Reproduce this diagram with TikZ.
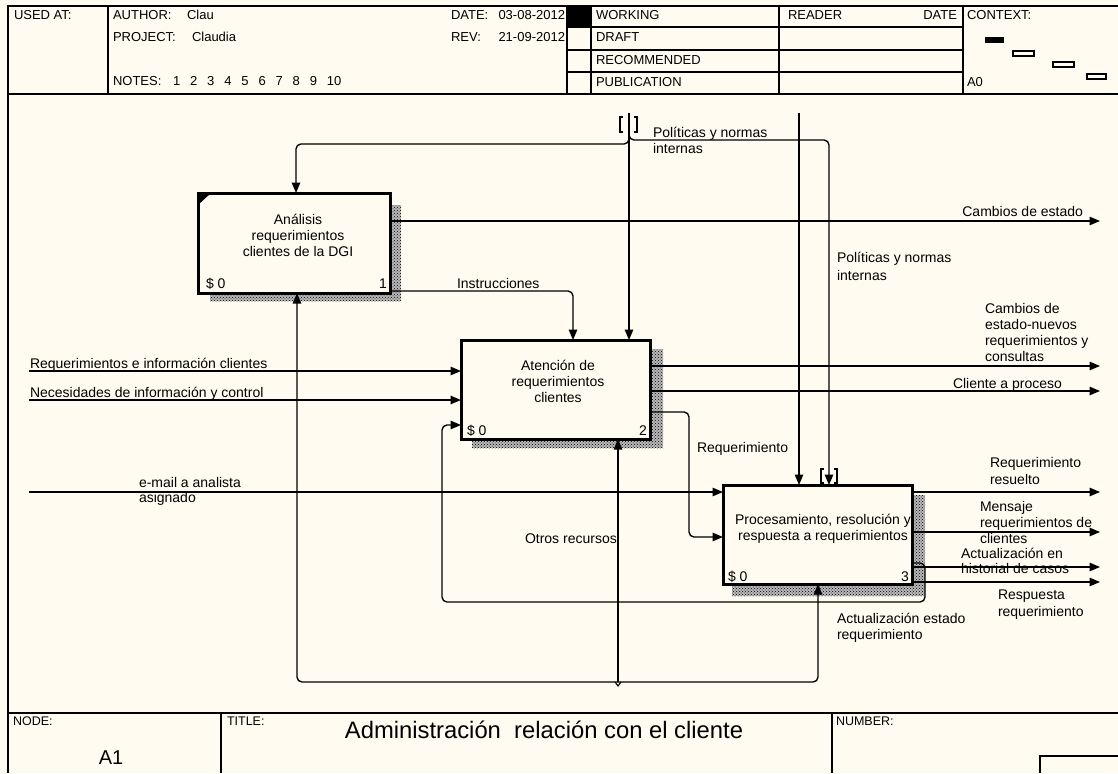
\documentclass[tikz,border=0pt]{standalone}
\usepackage{fontspec}
\setmainfont{Liberation Sans}
\usetikzlibrary{arrows.meta,patterns,calc}
\definecolor{paper}{RGB}{255,251,240}
\newcommand\lblfont{\fontsize{14}{16}\selectfont}
\newcommand\hdrfont{\fontsize{13}{15}\selectfont}
\newcommand\lblstack[2][l]{\begin{tabular}[t]{@{}#1@{}}#2\end{tabular}}
\begin{document}
\begin{tikzpicture}[x=1pt,y=-1pt,
  every node/.style={inner sep=0pt,outer sep=0pt},
  lbl/.style={font=\lblfont,anchor=base west},
  lblr/.style={font=\lblfont,anchor=base east},
  boxtext/.style={font=\lblfont,anchor=base},
  hdr/.style={font=\hdrfont,anchor=base west},
  hdrr/.style={font=\hdrfont,anchor=base east},
  rule/.style={line width=1.4pt},
  actbox/.style={draw,fill=paper,line width=3pt,minimum width=189pt,minimum height=99pt},
  shade/.style={fill=black!28,postaction={pattern=crosshatch dots,pattern color=black}},
  conn/.style={line width=1.35pt,rounded corners=5pt},
  flow/.style={conn,-{Triangle[length=10.5pt,width=8.5pt]}},
  bracket/.style={line width=1.2pt},
]
% page
\fill[paper] (0,0) rectangle (1118,773);
\useasboundingbox (0,0) rectangle (1118,773);

% ---------- frame and header form ----------
\draw[rule] (8,773) -- (8,6) -- (1118,6);
\draw[rule] (8,94) -- (1118,94);
\draw[rule] (8,713) -- (1118,713);
\foreach \x in {108,567,591,779,963} \draw[rule] (\x,6) -- (\x,94);
\foreach \y in {27,50,72} \draw[rule] (567,\y) -- (963,\y);
\fill (567,6) rectangle (591,27);

\node[hdr] (usedat) at (14,20) {USED AT:};
\node[hdr] (author) at (113,20) {AUTHOR:};
\node[hdr] (authorv) at (187,20) {Clau};
\node[hdr] (project) at (113,42) {PROJECT:};
\node[hdr] (projectv) at (192,42) {Claudia};
\node[hdr] (notes) at (113,86) {NOTES:};
\foreach \k [count=\i from 0] in {1,...,10}
  \node[hdr] (note\k) at ({173+17.1*\i},86) {\k};
\node[hdr] (date) at (451,20) {DATE:};
\node[hdrr] (datev) at (565,20) {03-08-2012};
\node[hdr] (rev) at (451,42) {REV:};
\node[hdrr] (revv) at (565,42) {21-09-2012};
\node[hdr] (working) at (596,20) {WORKING};
\node[hdr] (draft) at (596,42) {DRAFT};
\node[hdr] (recom) at (596,65) {RECOMMENDED};
\node[hdr] (publ) at (596,87) {PUBLICATION};
\node[hdr] (reader) at (788,20) {READER};
\node[hdrr] (rdate) at (957,20) {DATE};
\node[hdr] (context) at (967,20) {CONTEXT:};
\node[hdr] (ctxa0) at (967,87) {A0};
\fill (985,37) rectangle (1004,43);
\draw[line width=1.1pt] (1013,51) rectangle (1034,56);
\draw[line width=1.1pt] (1053,62) rectangle (1074,67);
\draw[line width=1.1pt] (1087,74) rectangle (1106,79);

% ---------- footer ----------
\draw[rule] (221,713) -- (221,773);
\draw[rule] (832,713) -- (832,773);
\draw[rule] (1040,773) -- (1040,756) -- (1118,756);
\node[hdr,font=\fontsize{12.5}{14}\selectfont] (fnode) at (13,725) {NODE:};
\node[hdr,font=\fontsize{12.5}{14}\selectfont] (ftitle) at (227,725) {TITLE:};
\node[hdr,font=\fontsize{12.5}{14}\selectfont] (fnumber) at (836,725) {NUMBER:};
\node[font=\fontsize{20}{22}\selectfont,anchor=base] (fa1) at (111,764) {A1};
\node[font=\fontsize{23.8}{26}\selectfont,anchor=base] (ftitlev) at (544,738) {Administración\ \ relación con el cliente};

% ---------- activity boxes ----------
\coordinate (b1c) at (294,243);
\coordinate (b2c) at (555.5,389.5);
\coordinate (b3c) at (817.5,534.5);
% shadows
\fill[shade] ($(b1c)+(96,-38)$) rectangle ($(b1c)+(107,58)$);
\fill[shade] ($(b1c)+(-84,50)$) rectangle ($(b1c)+(96,58)$);
\fill[shade] ($(b2c)+(94.5,-40.5)$) rectangle ($(b2c)+(107.5,58.5)$);
\fill[shade] ($(b2c)+(-83.5,49.5)$) rectangle ($(b2c)+(94.5,58.5)$);
\fill[shade] ($(b3c)+(94.5,-39.5)$) rectangle ($(b3c)+(107.5,61.5)$);
\fill[shade] ($(b3c)+(-85.5,49.5)$) rectangle ($(b3c)+(94.5,61.5)$);

\node[actbox,minimum width=192pt,minimum height=100pt] (b1) at (b1c) {};
\node[actbox] (b2) at (b2c) {};
\node[actbox] (b3) at (b3c) {};
\fill (b1.north west) -- ++(13,0) -- ++(-13,12) -- cycle;

% ---------- connector end points ----------
\coordinate (tunA) at (629,113);
\coordinate (tunJ) at (629,130);
\coordinate (ctlL) at (296,144);
\coordinate (ctlR) at (829,140);
\coordinate (polT) at (799,113);
\coordinate (ins) at (573,291);
\coordinate (ce) at (1100,221);
\coordinate (in1) at (29,371);
\coordinate (in2) at (29,400);
\coordinate (mail) at (29,492);
\coordinate (o2a) at (1100,366);
\coordinate (o2b) at (1100,391);
\coordinate (rq) at (689,412);
\coordinate (rqB) at (689,537);
\coordinate (o3a) at (1100,492);
\coordinate (o3b) at (1100,532);
\coordinate (o3c) at (1100,567);
\coordinate (o3d) at (1100,582);
\coordinate (fbA) at (925,563);
\coordinate (fbB) at (442,602);
\coordinate (fbC) at (442,425);
\coordinate (mj) at (618,682);
\coordinate (mL) at (297,682);
\coordinate (mR) at (818,682);

% ---------- controls ----------
\draw[flow] (tunA) -- (tunA |- b2.north);
\draw[flow] (tunJ) |- (ctlL) -- (ctlL |- b1.north);
\draw[flow] (tunJ) |- (ctlR) -- (ctlR |- b3.north);
\draw[flow] (polT) -- (polT |- b3.north);
\draw[flow] (ins -| b1.east) -| (ins |- b2.north);
% tunnel brackets
\draw[bracket] ($(tunA)+(-6,4)$) -- ++(-3,0) -- ++(0,15) -- ++(3,0);
\draw[bracket] ($(tunA)+(5,4)$) -- ++(3,0) -- ++(0,15) -- ++(-3,0);
\coordinate (tb) at (ctlR |- b3.north);
\draw[bracket] ($(tb)+(-5,-16)$) -- ++(-3,0) -- ++(0,14) -- ++(3,0);
\draw[bracket] ($(tb)+(5,-16)$) -- ++(3,0) -- ++(0,14) -- ++(-3,0);

% ---------- inputs ----------
\draw[flow] (in1) -- (in1 -| b2.west);
\draw[flow] (in2) -- (in2 -| b2.west);
\draw[flow] (mail) -- (mail -| b3.west);
\draw[flow] (rq -| b2.east) -| (rqB) -- (rqB -| b3.west);
\draw[flow] (fbA -| b3.east) -- (fbA) |- (fbB) |- (fbC -| b2.west);

% ---------- outputs ----------
\draw[flow] (ce -| b1.east) -- (ce);
\draw[flow] (o2a -| b2.east) -- (o2a);
\draw[flow] (o2b -| b2.east) -- (o2b);
\draw[flow] (o3a -| b3.east) -- (o3a);
\draw[flow] (o3b -| b3.east) -- (o3b);
\draw[flow] (o3c -| b3.east) -- (o3c);
\draw[flow] (o3d -| b3.east) -- (o3d);

% ---------- mechanisms ----------
\draw[flow] (mj) -- (mj |- b2.south);
\draw[flow] (mj) -| (mL |- b1.south);
\draw[flow] (mj) -| (mR |- b3.south);
\draw[line width=1.1pt] ($(mj)+(-3,0)$) -- ($(mj)+(0,4)$) -- ($(mj)+(3,0)$);

% ---------- box texts ----------
\node[boxtext] (t1) at (298,224) {\lblstack[c]{Análisis\\requerimientos\\clientes de la DGI}};
\node[lbl] (s1) at (206,288) {\$ 0};
\node[lblr] (n1) at (387,288) {1};
\node[boxtext] (t2) at (558,370) {\lblstack[c]{Atención de\\requerimientos\\clientes}};
\node[lbl] (s2) at (467,435) {\$ 0};
\node[lblr] (n2) at (647,435) {2};
\node[boxtext] (t3) at (823,524) {\lblstack[c]{Procesamiento, resolución y\\respuesta a requerimientos}};
\node[lbl] (s3) at (728,581) {\$ 0};
\node[lblr] (n3) at (909,581) {3};

% ---------- arrow labels ----------
\node[lbl] (lpol1) at (653,137) {\lblstack{Políticas y normas\\internas}};
\node[lblr] (lce) at (1083,216) {Cambios de estado};
\node[lbl] (lpol2) at (837,262) {\lblstack{Políticas y normas\\[2pt]internas}};
\node[lbl] (lins) at (457,288) {Instrucciones};
\node[lbl] (lcnr) at (985,313) {\lblstack{Cambios de\\estado-nuevos\\requerimientos y\\consultas}};
\node[lbl] (lcap) at (953,388) {Cliente a proceso};
\node[lbl] (lin1) at (30,368) {Requerimientos e información clientes};
\node[lbl] (lin2) at (30,397) {Necesidades de información y control};
\node[lbl] (lrq) at (697,452) {Requerimiento};
\node[lbl] (lrr) at (990,467) {\lblstack{Requerimiento\\[1pt]resuelto}};
\node[lbl] (lmail) at (139,487) {\lblstack{e-mail a analista\\[-1pt]asignado}};
\node[lbl] (lmsg) at (980,511) {\lblstack{Mensaje\\requerimientos de\\clientes}};
\node[lbl] (lotr) at (525,543) {Otros recursos};
\node[lbl] (lhist) at (961,558) {\lblstack{Actualización en\\[-1pt]historial de casos}};
\node[lbl] (lresp) at (998,599) {\lblstack{Respuesta\\[1pt]requerimiento}};
\node[lbl] (lact) at (837,623) {\lblstack{Actualización estado\\requerimiento}};
\end{tikzpicture}
\end{document}
